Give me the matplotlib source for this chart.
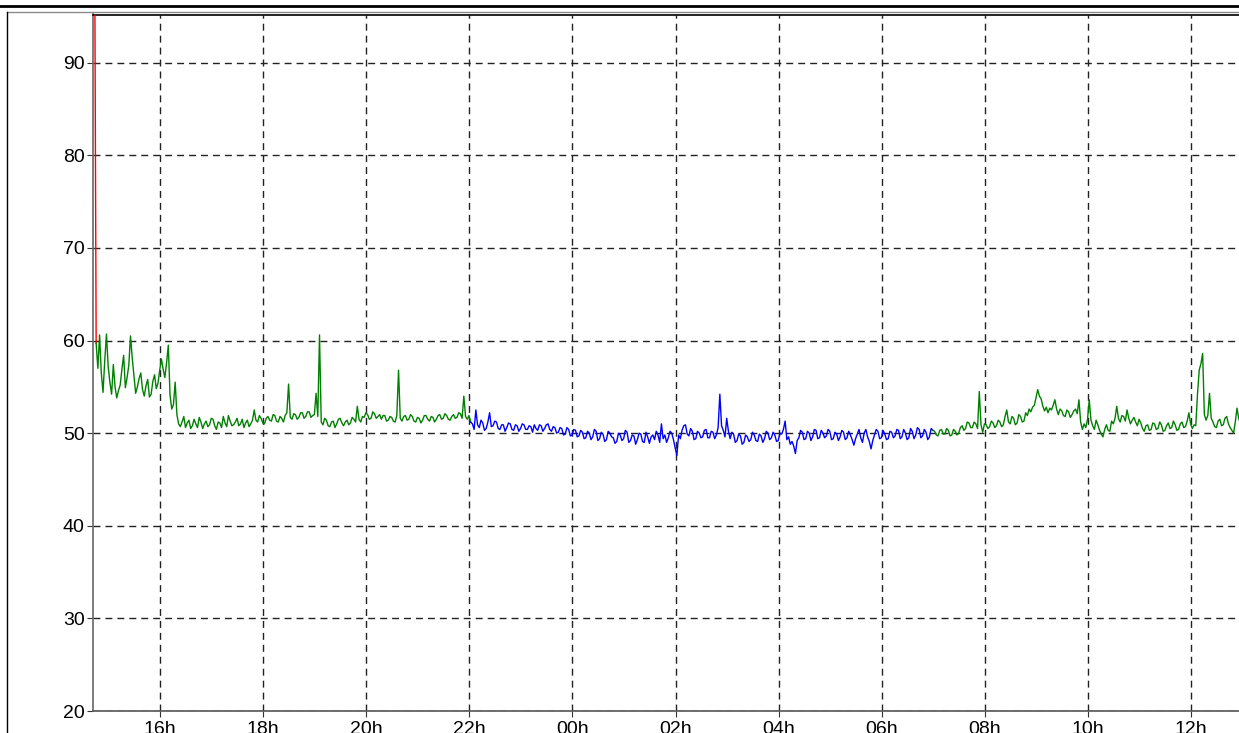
import numpy as np
import matplotlib
matplotlib.use("Agg")
import matplotlib.pyplot as plt
from matplotlib.lines import Line2D

plt.rcParams['font.family'] = ['Liberation Sans', 'DejaVu Sans']
plt.rcParams['lines.scale_dashes'] = False

# time in hours since midnight of day 1, one sample every 2 minutes
step = 1 / 30

red_t = [14.72, 14.76]
red_v = [120.0, 59.7]

green1_t0 = 14.76
green1_v = [
    59.7, 57.0, 60.6, 56.5, 54.4, 57.8, 60.7, 57.2, 55.5, 54.2,
    57.4, 55.0, 53.8, 54.6, 55.2, 56.9, 58.4, 54.9, 56.0, 57.3,
    60.5, 58.1, 56.2, 54.3, 55.0, 55.9, 56.5, 54.7, 54.0, 55.1,
    55.8, 53.9, 54.2, 55.6, 56.3, 54.8, 55.4, 56.8, 58.0, 56.9,
    56.0, 57.6, 59.5, 54.1, 52.6, 53.1, 55.5, 52.0, 51.0, 50.7,
    51.2, 51.8, 50.6, 51.1, 51.4, 50.5, 50.8, 51.5, 51.0, 50.6,
    51.7, 51.2, 50.5, 51.0, 51.3, 50.7, 50.9, 51.6, 51.5, 50.8,
    50.4, 51.2, 51.1, 50.6, 51.8, 51.1, 50.7, 51.9, 51.3, 50.8,
    50.9, 51.2, 51.6, 50.8, 51.0, 51.5, 50.6, 51.1, 51.4, 50.7,
    51.0, 51.4, 52.5, 51.4, 51.2, 51.9, 51.6, 51.1, 51.0, 51.6,
    51.8, 51.4, 51.3, 52.0, 51.9, 51.3, 51.2, 51.8, 51.6, 51.2,
    51.9, 52.2, 55.3, 51.7, 51.5, 52.1, 52.0, 51.5, 51.7, 52.2,
    52.2, 51.6, 51.8, 52.3, 52.3, 51.7, 51.9, 52.0, 54.3, 51.8,
    60.6, 51.2, 50.9, 51.6, 51.4, 50.8, 50.7, 51.2, 51.3, 50.6,
    51.0, 51.5, 51.6, 51.1, 50.8, 51.2, 51.4, 50.9, 51.1, 51.7,
    51.5, 51.2, 52.9, 51.5, 51.2, 51.8, 51.7, 52.2, 52.0, 51.5,
    51.6, 52.3, 52.1, 51.6, 51.8, 52.0, 51.5, 51.9, 51.9, 51.3,
    51.4, 51.8, 51.7, 51.3, 51.2, 51.9, 56.8, 51.6, 51.3, 51.8,
    51.9, 51.4, 51.5, 52.0, 51.8, 51.3, 51.2, 51.7, 51.6, 51.1,
    51.4, 51.9, 51.9, 51.5, 51.3, 51.8, 51.7, 51.2, 51.5, 51.9,
    52.0, 51.5, 51.6, 52.1, 51.9, 51.5, 51.4, 51.8, 52.0, 51.6,
    51.7, 52.2, 52.1, 51.6, 54.0, 51.8, 51.5, 51.9, 51.2,
]

blue_v = [
    51.0, 50.4, 52.5, 50.9, 50.6, 51.4, 51.1, 50.3, 50.5, 51.2,
    52.2, 50.7, 50.8, 51.3, 51.2, 50.5, 50.4, 50.9, 50.9, 50.2,
    50.6, 51.1, 51.0, 50.4, 50.3, 50.9, 50.8, 50.2, 50.5, 51.0,
    50.9, 50.4, 50.4, 50.8, 50.7, 50.1, 50.9, 50.5, 50.3, 50.9,
    50.8, 50.2, 50.5, 50.9, 51.0, 50.4, 50.2, 50.7, 50.6, 50.0,
    50.1, 50.6, 50.5, 49.8, 49.9, 50.6, 50.4, 49.7, 49.8, 50.4,
    50.3, 49.6, 49.7, 50.3, 50.1, 49.4, 49.5, 50.2, 50.0, 49.3,
    49.6, 50.4, 50.2, 49.2, 49.4, 50.1, 49.9, 49.1, 49.3, 50.2,
    50.0, 49.6, 49.5, 48.9, 49.1, 50.0, 49.8, 49.2, 49.4, 50.3,
    50.1, 49.0, 49.2, 49.8, 49.7, 48.8, 49.3, 50.0, 49.9, 49.1,
    49.0, 50.1, 49.6, 48.9, 49.6, 49.8, 49.3, 50.2, 49.8, 49.0,
    51.0, 49.4, 49.8, 49.0, 49.5, 50.2, 50.0, 49.3, 48.4, 47.6,
    49.8, 49.4, 50.3, 50.8, 50.9, 49.9, 49.7, 50.5, 50.2, 49.3,
    49.4, 50.2, 50.0, 49.5, 49.6, 50.3, 50.4, 49.5, 49.5, 50.2,
    50.1, 49.4, 49.8, 50.6, 54.2, 50.8, 50.3, 49.6, 51.6, 50.2,
    49.4, 50.1, 49.9, 49.0, 49.2, 49.9, 49.7, 48.8, 49.0, 49.8,
    49.6, 49.1, 49.3, 50.1, 49.8, 49.2, 49.1, 49.9, 49.7, 49.0,
    49.4, 50.2, 50.0, 49.3, 49.5, 50.1, 49.8, 49.1, 49.2, 50.0,
    49.9, 50.4, 51.3, 49.3, 49.6, 48.8, 49.1, 48.6, 47.8, 49.2,
    49.5, 50.3, 50.1, 49.3, 49.4, 50.2, 50.0, 49.2, 49.6, 50.4,
    50.3, 49.4, 49.5, 50.3, 50.0, 49.5, 49.7, 50.4, 50.2, 49.3,
    49.4, 50.1, 49.9, 49.2, 49.6, 50.3, 50.1, 49.3, 49.5, 50.2,
    49.8, 49.3, 48.7, 49.4, 49.9, 50.4, 49.5, 49.0, 50.0, 50.4,
    49.6, 49.1, 48.3, 49.2, 49.8, 50.4, 50.2, 49.4, 49.5, 50.3,
    49.9, 49.3, 49.4, 50.2, 50.1, 49.5, 49.7, 50.4, 50.3, 49.4,
    49.6, 50.4, 50.0, 49.3, 49.5, 50.5, 50.2, 49.4, 49.8, 50.6,
    50.4, 49.5, 49.7, 50.4, 50.1, 49.3, 49.6, 50.5, 50.3,
]

green2_v = [
    50.2, 49.8, 49.7, 50.3, 50.4, 49.9, 49.9, 50.5, 50.3, 49.7,
    49.8, 50.4, 50.2, 49.8, 50.0, 50.6, 50.8, 50.3, 50.5, 51.2,
    51.1, 50.6, 50.6, 51.2, 51.0, 50.5, 54.5, 50.9, 50.1, 51.0,
    50.9, 50.5, 50.7, 51.3, 51.1, 50.6, 50.8, 51.4, 51.2, 50.7,
    50.9, 51.8, 52.5, 51.2, 51.0, 51.8, 51.6, 50.9, 51.1, 52.0,
    51.8, 51.2, 51.3, 52.2, 51.9, 52.6, 52.3, 52.8, 53.0, 53.8,
    54.7, 54.0, 53.7, 52.9, 52.4, 52.8, 52.2, 52.7, 52.5, 53.0,
    53.6, 52.6, 52.0, 52.6, 52.4, 51.9, 51.8, 52.5, 52.3, 51.7,
    52.0, 52.4, 52.6, 52.1, 53.6, 51.2, 50.4, 51.0, 50.6, 51.5,
    53.6, 51.4, 50.8, 50.4, 51.4, 50.9, 50.3, 49.9, 49.6, 50.4,
    50.9, 50.3, 50.2, 51.3, 51.0, 51.6, 52.9, 51.6, 51.2, 51.9,
    51.8, 51.3, 52.5, 51.6, 51.0, 51.4, 51.7, 51.2, 50.8, 51.5,
    51.1, 50.5, 50.2, 50.8, 50.9, 50.3, 50.4, 51.1, 51.0, 50.4,
    50.5, 51.2, 50.9, 50.2, 50.3, 50.8, 51.1, 50.5, 50.6, 51.3,
    50.9, 50.3, 50.4, 51.0, 51.2, 50.6, 50.7, 51.3, 52.2, 51.0,
    50.5, 50.9, 50.8, 54.2, 56.8, 57.5, 58.6, 52.0, 51.4, 51.9,
    54.3, 51.6, 51.2, 50.7, 50.6, 51.3, 51.5, 50.8, 50.9, 51.6,
    51.8, 51.0, 50.6, 50.3, 50.0, 51.2, 52.7, 51.6, 51.0,
]

tick_pos = [16, 18, 20, 22, 24, 26, 28, 30, 32, 34, 36]
tick_lab = ['16h', '18h', '20h', '22h', '00h', '02h', '04h', '06h', '08h', '10h', '12h']
y_ticks = [20, 30, 40, 50, 60, 70, 80, 90]

# build time axes, each segment joined to the previous one
green1_t = green1_t0 + np.arange(len(green1_v)) * step
blue_t = green1_t[-1] + np.arange(1, len(blue_v) + 1) * step
green2_t = blue_t[-1] + np.arange(1, len(green2_v) + 1) * step

W, H = 1239, 733
fig = plt.figure(figsize=(W / 100, H / 100), dpi=100)
ax = fig.add_axes([93 / W, 1 - 711 / H, (W - 93) / W, (711 - 14.5) / H])

ax.plot(red_t, red_v, color='#ff0000', lw=1.0, zorder=3)
ax.plot(green1_t, green1_v, color='#008000', lw=1.0, zorder=3)
ax.plot(np.r_[green1_t[-1], blue_t], np.r_[green1_v[-1], blue_v], color='#0000ff', lw=1.0, zorder=3)
ax.plot(np.r_[blue_t[-1], green2_t], np.r_[blue_v[-1], green2_v], color='#008000', lw=1.0, zorder=3)

ax.set_xlim(14.699, 36.932)
ax.set_ylim(20, 95.2)
ax.set_xticks(tick_pos)
ax.set_xticklabels(tick_lab)
ax.set_yticks(y_ticks)
ax.tick_params(axis='both', labelsize=14, length=4.5, width=0.8, color='#333333', pad=1.5)
ax.tick_params(axis='x', pad=3)

ax.grid(True, color='#222222', lw=1.0, linestyle=(0, (5, 3.6)))
ax.spines['right'].set_visible(False)
ax.spines['top'].set_color('black')
ax.spines['top'].set_linewidth(1.2)
ax.spines['left'].set_color('#666666')
ax.spines['left'].set_linewidth(1.2)
ax.spines['bottom'].set_color('#555555')
ax.spines['bottom'].set_linewidth(1.2)

# outer frame lines
fig.add_artist(Line2D([0, 1], [1 - 6.2 / H, 1 - 6.2 / H], color='black', lw=2.0))
fig.add_artist(Line2D([7.3 / W, 1], [1 - 11.5 / H, 1 - 11.5 / H], color='#8a8a8a', lw=1.0))
fig.add_artist(Line2D([7.3 / W, 7.3 / W], [0, 1 - 11.5 / H], color='black', lw=1.0))

fig.savefig('out.png', dpi=100)
